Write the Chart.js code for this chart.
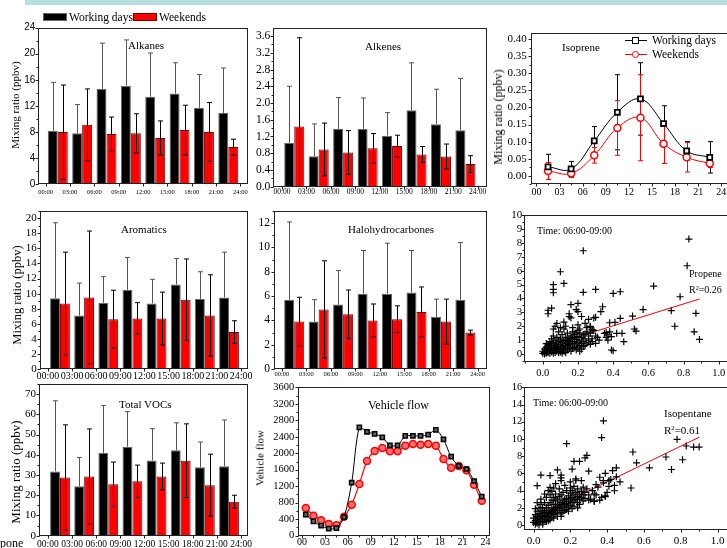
<!DOCTYPE html>
<html>
<head>
<meta charset="utf-8">
<script src="https://cdn.jsdelivr.net/npm/chart.js@4.4.1/dist/chart.umd.min.js"></script>
<style>
html, body { margin: 0; padding: 0; background: #fff; width: 727px; height: 548px; overflow: hidden; position: relative; }
canvas { position: absolute; }
.t { position: absolute; font-family: "Liberation Serif", "Times New Roman", serif; font-size: 11px; line-height: 1; color: #000; white-space: nowrap; }
.rot { transform: translate(-50%, -50%) rotate(-90deg); }
sup { font-size: 0.6em; vertical-align: 0.55em; line-height: 0; }
</style>
</head>
<body>
<div style="position:absolute;left:25px;top:0;width:702px;height:5px;background:#b8e0e2"></div>

<canvas id="alkanes"></canvas>
<canvas id="alkenes"></canvas>
<canvas id="isoprene"></canvas>
<canvas id="aromatics"></canvas>
<canvas id="halo"></canvas>
<canvas id="propene"></canvas>
<canvas id="total"></canvas>
<canvas id="vehicle"></canvas>
<canvas id="isopentane"></canvas>

<!-- legend of the bar panels -->
<div style="position:absolute;left:43px;top:13px;width:24px;height:8px;background:#000;border:1px solid #666;box-sizing:border-box"></div>
<div class="t" style="left:69px;top:11.5px;font-size:11.5px">Working days</div>
<div style="position:absolute;left:133px;top:13px;width:24px;height:8px;background:#f00;border:1px solid #700;box-sizing:border-box"></div>
<div class="t" style="left:159px;top:11.5px;font-size:11.5px">Weekends</div>

<!-- legend of the isoprene panel -->
<div style="position:absolute;left:625px;top:40px;width:22px;height:1px;background:#000"></div>
<div style="position:absolute;left:632px;top:37px;width:7px;height:7px;border:1.5px solid #000;background:#fff;box-sizing:border-box"></div>
<div class="t" style="left:652px;top:35px;font-size:11.5px">Working days</div>
<div style="position:absolute;left:625px;top:53.5px;width:22px;height:1px;background:#f00"></div>
<div style="position:absolute;left:632px;top:50.5px;width:7px;height:7px;border:1.5px solid #f00;border-radius:50%;background:#fff;box-sizing:border-box"></div>
<div class="t" style="left:652px;top:48.5px;font-size:11.5px">Weekends</div>

<div class="t" style="left:128px;top:39.5px">Alkanes</div>
<div class="t" style="left:365px;top:40.5px">Alkenes</div>
<div class="t" style="left:562px;top:41.5px">Isoprene</div>
<div class="t" style="left:121px;top:223.5px">Aromatics</div>
<div class="t" style="left:348px;top:223.5px">Halohydrocarbones</div>
<div class="t" style="left:537px;top:226px;font-size:10px">Time: 06:00-09:00</div>
<div class="t" style="left:689px;top:269px;font-size:10px">Propene</div>
<div class="t" style="left:689px;top:285px;font-size:10px">R<sup>2</sup>=0.26</div>
<div class="t" style="left:119px;top:398.5px">Total VOCs</div>
<div class="t" style="left:368px;top:399px;font-size:12px">Vehicle flow</div>
<div class="t" style="left:533px;top:398px;font-size:10px">Time: 06:00-09:00</div>
<div class="t" style="left:664px;top:407.5px">Isopentane</div>
<div class="t" style="left:664px;top:424.5px">R<sup>2</sup>=0.61</div>
<div class="t" style="left:0px;top:537px;font-size:12px">pone</div>

<div class="t rot" style="left:15px;top:105px">Mixing ratio (ppbv)</div>
<div class="t rot" style="left:16.5px;top:295px;font-size:12.5px">Mixing ratio (ppbv)</div>
<div class="t rot" style="left:15px;top:472px;font-size:13px">Mixing ratio (ppbv)</div>
<div class="t rot" style="left:498px;top:117px;font-size:12px">Mixing ratio (ppbv)</div>
<div class="t rot" style="left:260px;top:458px">Vehicle flow</div>

<script>
const SERIF = '"Liberation Serif", "Times New Roman", serif';
const SANS = '"Liberation Sans", Arial, sans-serif';

const timeLabels = ['00:00', '03:00', '06:00', '09:00', '12:00', '15:00', '18:00', '21:00', '24:00'];
const hourLabels = ['00', '03', '06', '09', '12', '15', '18', '21', '24'];
const binHours = [1.5, 4.5, 7.5, 10.5, 13.5, 16.5, 19.5, 22.5];

// 3-hour means and standard deviations
const alkanesWork = [8.2, 7.8, 14.6, 15.1, 13.4, 13.9, 11.7, 10.9];
const alkanesWorkSd = [7.4, 4.4, 7.0, 7.0, 6.7, 4.7, 5.1, 6.9];
const alkanesWeek = [8.0, 9.1, 7.7, 7.8, 7.1, 8.3, 8.0, 5.7];
const alkanesWeekSd = [7.2, 5.5, 2.6, 3.0, 2.6, 3.8, 4.5, 1.2];

const alkenesWork = [1.05, 0.73, 1.38, 1.38, 1.22, 1.83, 1.49, 1.35];
const alkenesWorkSd = [1.35, 0.77, 0.75, 0.74, 0.55, 1.13, 0.84, 1.24];
const alkenesWeek = [1.44, 0.89, 0.82, 0.92, 0.97, 0.77, 0.72, 0.54];
const alkenesWeekSd = [2.12, 0.63, 0.52, 0.35, 0.26, 0.19, 0.30, 0.20];

const isopreneWork = [0.026, 0.020, 0.102, 0.186, 0.225, 0.153, 0.073, 0.054];
const isopreneWorkSd = [0.037, 0.022, 0.042, 0.110, 0.106, 0.052, 0.027, 0.046];
const isopreneWeek = [0.014, 0.007, 0.060, 0.140, 0.170, 0.094, 0.054, 0.036];
const isopreneWeekSd = [0.025, 0.012, 0.023, 0.080, 0.126, 0.058, 0.043, 0.012];

const aromaticsWork = [9.4, 7.1, 8.8, 10.5, 8.7, 11.2, 9.3, 9.5];
const aromaticsWorkSd = [10.0, 4.3, 3.45, 4.3, 3.2, 3.45, 3.6, 6.0];
const aromaticsWeek = [8.7, 9.5, 6.6, 6.7, 6.7, 9.2, 7.1, 4.9];
const aromaticsWeekSd = [6.8, 8.8, 3.85, 2.1, 3.5, 5.4, 5.4, 1.5];

const haloWork = [5.7, 3.9, 5.3, 6.2, 6.2, 6.3, 4.3, 5.7];
const haloWorkSd = [6.4, 1.8, 2.8, 3.55, 4.15, 3.45, 1.45, 4.7];
const haloWeek = [3.9, 4.9, 4.5, 4.0, 4.1, 4.7, 3.9, 3.0];
const haloWeekSd = [2.0, 4.0, 2.0, 1.35, 1.1, 2.05, 1.85, 0.2];

const totalWork = [31.8, 24.5, 40.9, 44.0, 37.2, 42.2, 33.8, 34.3];
const totalWorkSd = [34.9, 14.2, 23.5, 17.3, 15.7, 13.6, 12.5, 22.9];
const totalWeek = [28.8, 29.3, 25.4, 26.9, 29.3, 37.1, 25.0, 16.8];
const totalWeekSd = [26.0, 23.5, 11.0, 8.0, 6.6, 18.2, 15.3, 3.2];

// hourly vehicle flow
const flowHours = [0.5, 1.5, 2.5, 3.5, 4.5, 5.5, 6.5, 7.5, 8.5, 9.5, 10.5, 11.5,
  12.5, 13.5, 14.5, 15.5, 16.5, 17.5, 18.5, 19.5, 20.5, 21.5, 22.5, 23.5];
const flowWork = [510, 348, 243, 170, 186, 453, 1287, 2630, 2517, 2468, 2387, 2193,
  2193, 2420, 2420, 2420, 2452, 2565, 2338, 1917, 1691, 1618, 1327, 947];
const flowWeek = [671, 485, 372, 283, 251, 461, 752, 1254, 1812, 2055, 2128, 2047,
  2047, 2185, 2225, 2209, 2225, 2185, 1861, 1650, 1691, 1586, 1238, 850];

// scatter, 06:00-09:00
const propenePts = [
  [0.00, 0.05], [0.00, 0.2], [0.01, 0.1], [0.01, 0.35], [0.01, 0.0], [0.02, 0.15], [0.02, 0.3], [0.02, 0.5],
  [0.02, 0.05], [0.03, 0.2], [0.03, 0.4], [0.03, 0.1], [0.03, 0.7], [0.04, 0.25], [0.04, 0.5], [0.04, 0.05],
  [0.04, 0.9], [0.05, 0.3], [0.05, 0.15], [0.05, 0.6], [0.05, 1.1], [0.06, 0.2], [0.06, 0.45], [0.06, 0.8],
  [0.06, 1.3], [0.07, 0.3], [0.07, 0.6], [0.07, 0.1], [0.07, 1.0], [0.08, 0.4], [0.08, 0.7], [0.08, 0.2],
  [0.08, 1.2], [0.09, 0.5], [0.09, 0.3], [0.09, 0.9], [0.09, 1.6], [0.10, 0.4], [0.10, 0.7], [0.10, 0.15],
  [0.10, 1.1], [0.11, 0.55], [0.11, 0.3], [0.11, 0.85], [0.11, 1.4], [0.12, 0.6], [0.12, 0.2], [0.12, 1.0],
  [0.12, 1.8], [0.13, 0.45], [0.13, 0.8], [0.13, 1.2], [0.14, 0.6], [0.14, 0.3], [0.14, 1.0], [0.14, 1.5],
  [0.15, 0.7], [0.15, 0.4], [0.15, 1.15], [0.16, 0.5], [0.16, 0.9], [0.16, 1.3], [0.16, 0.2], [0.17, 0.75],
  [0.17, 1.1], [0.17, 1.6], [0.18, 0.5], [0.18, 0.9], [0.18, 1.4], [0.19, 0.65], [0.19, 1.05], [0.19, 0.3],
  [0.20, 0.8], [0.20, 1.25], [0.20, 1.7], [0.20, 0.45], [0.21, 0.6], [0.21, 1.0], [0.21, 1.5], [0.22, 0.75],
  [0.22, 1.2], [0.22, 0.35], [0.23, 0.9], [0.23, 1.4], [0.24, 0.6], [0.24, 1.1], [0.25, 0.8], [0.25, 1.6],
  [0.26, 1.0], [0.26, 1.3], [0.27, 0.7], [0.27, 1.5], [0.28, 1.1], [0.28, 0.9], [0.29, 1.7], [0.30, 1.3],
  [0.03, 0.6], [0.04, 0.35], [0.06, 0.05], [0.08, 0.55], [0.10, 0.95], [0.12, 0.4], [0.13, 0.1], [0.15, 0.9],
  [0.17, 0.4], [0.18, 1.2], [0.19, 1.5], [0.21, 0.2], [0.23, 0.55], [0.09, 0.1], [0.07, 0.45], [0.05, 0.8],
  [0.02, 0.75], [0.11, 0.05], [0.14, 0.75], [0.16, 1.1], [0.24, 1.45],
  [0.06, 1.8], [0.07, 2.0], [0.08, 2.2], [0.10, 1.9], [0.12, 2.3], [0.13, 2.0], [0.15, 2.7], [0.15, 2.9],
  [0.16, 2.6], [0.17, 1.9], [0.20, 2.1], [0.21, 1.8], [0.22, 2.7], [0.24, 2.2], [0.25, 1.9], [0.26, 2.5],
  [0.27, 2.0], [0.28, 1.75], [0.29, 2.6], [0.19, 3.2], [0.20, 3.05], [0.20, 3.65], [0.16, 3.55], [0.05, 3.3],
  [0.03, 3.15], [0.03, 2.9],
  [0.30, 2.64], [0.33, 3.05], [0.34, 3.4], [0.30, 4.65], [0.27, 1.97], [0.28, 1.73], [0.30, 0.77], [0.35, 1.49],
  [0.37, 1.37], [0.39, 1.25], [0.37, 1.0], [0.39, 0.29], [0.40, 0.24], [0.38, 2.25], [0.41, 2.28], [0.44, 2.57],
  [0.42, 1.49], [0.45, 1.49], [0.46, 0.89], [0.40, 4.36], [0.44, 4.48], [0.36, 1.2], [0.36, 1.55], [0.38, 1.6],
  [0.31, 1.2], [0.32, 1.0],
  [0.51, 2.73], [0.52, 1.8], [0.53, 1.65], [0.57, 3.2], [0.63, 4.89], [0.73, 3.12], [0.75, 2.0], [0.78, 4.12],
  [0.82, 6.35], [0.83, 8.27], [0.87, 2.93], [0.86, 1.6], [0.89, 1.05],
  [0.23, 7.43], [0.10, 5.92], [0.12, 5.08], [0.06, 4.99], [0.06, 4.65], [0.06, 4.41], [0.23, 4.44]
];
const propeneFitX = [0.0, 0.89];
const propeneFitY = [0.46, 3.96];

const isopentanePts = [
  [0.00, 0.3], [0.00, 0.8], [0.01, 0.5], [0.01, 1.2], [0.01, 0.1], [0.02, 0.6], [0.02, 1.0], [0.02, 1.6],
  [0.02, 0.2], [0.03, 0.8], [0.03, 1.3], [0.03, 0.4], [0.03, 2.0], [0.04, 1.0], [0.04, 0.6], [0.04, 1.6],
  [0.04, 2.4], [0.05, 0.9], [0.05, 1.4], [0.05, 0.3], [0.05, 2.0], [0.06, 1.1], [0.06, 1.7], [0.06, 0.6],
  [0.06, 2.6], [0.07, 1.3], [0.07, 0.8], [0.07, 2.0], [0.07, 3.2], [0.08, 1.5], [0.08, 1.0], [0.08, 2.3],
  [0.08, 0.5], [0.09, 1.7], [0.09, 1.2], [0.09, 2.6], [0.09, 3.5], [0.10, 1.4], [0.10, 2.0], [0.10, 0.9],
  [0.10, 2.9], [0.11, 1.8], [0.11, 2.4], [0.11, 1.2], [0.11, 3.2], [0.12, 2.0], [0.12, 1.5], [0.12, 2.8],
  [0.12, 3.6], [0.13, 2.2], [0.13, 1.7], [0.13, 3.0], [0.13, 1.0], [0.14, 2.4], [0.14, 1.9], [0.14, 3.3],
  [0.15, 2.6], [0.15, 2.0], [0.15, 3.5], [0.15, 1.4], [0.16, 2.8], [0.16, 2.2], [0.16, 3.8], [0.17, 2.4],
  [0.17, 3.0], [0.17, 1.7], [0.18, 3.1], [0.18, 2.5], [0.18, 4.0], [0.18, 1.8], [0.19, 2.7], [0.19, 3.4],
  [0.19, 2.0], [0.20, 3.0], [0.20, 3.7], [0.20, 2.3], [0.20, 4.3], [0.21, 3.2], [0.21, 2.6], [0.21, 4.0],
  [0.22, 3.5], [0.22, 2.8], [0.22, 4.5], [0.23, 3.0], [0.23, 3.8], [0.24, 3.3], [0.24, 2.6], [0.24, 4.2],
  [0.25, 3.6], [0.25, 3.0], [0.26, 3.9], [0.26, 3.2], [0.27, 3.5], [0.27, 4.4], [0.28, 3.8], [0.28, 3.1],
  [0.29, 4.2], [0.30, 3.5], [0.31, 3.0], [0.32, 4.0], [0.05, 0.1], [0.03, 0.0], [0.07, 0.4], [0.09, 0.6],
  [0.11, 0.8], [0.13, 1.3], [0.16, 1.5], [0.19, 1.6], [0.22, 2.2], [0.25, 2.4], [0.02, 2.6], [0.04, 3.0],
  [0.06, 3.6], [0.08, 4.0], [0.10, 3.9], [0.14, 4.2], [0.17, 4.6], [0.20, 5.0], [0.23, 5.2], [0.12, 4.8],
  [0.01, 1.9], [0.06, 1.4], [0.10, 1.6], [0.15, 1.0], [0.18, 2.2], [0.21, 1.9], [0.24, 2.0], [0.27, 2.8],
  [0.30, 2.9], [0.33, 3.6], [0.35, 4.4], [0.37, 3.2], [0.38, 4.9], [0.40, 3.8], [0.41, 4.5], [0.42, 5.3],
  [0.44, 4.6], [0.45, 5.6], [0.47, 5.0], [0.36, 2.9], [0.34, 4.7], [0.39, 3.4],
  [0.38, 12.1], [0.37, 10.16], [0.18, 9.45], [0.78, 9.96], [0.83, 9.18], [0.87, 9.06], [0.90, 9.06], [0.72, 7.9],
  [0.81, 7.58], [0.75, 6.45], [0.63, 6.64], [0.54, 8.48], [0.56, 7.23], [0.53, 4.3], [0.45, 6.64], [0.43, 6.33],
  [0.39, 6.0], [0.29, 8.1], [0.28, 7.8], [0.25, 7.4], [0.22, 7.4], [0.21, 6.5], [0.30, 6.25], [0.13, 6.4],
  [0.15, 5.8], [0.04, 5.8], [0.09, 5.74], [0.02, 4.57], [0.09, 4.38], [0.11, 4.3], [0.15, 5.47], [0.15, 5.16],
  [0.23, 5.35], [0.26, 5.16], [0.36, 5.55], [0.38, 5.16], [0.41, 5.16], [0.44, 3.98], [0.34, 3.5], [0.39, 3.3],
  [0.33, 2.8], [0.33, 2.73]
];
const isopentaneFitX = [0.0, 0.90];
const isopentaneFitY = [0.85, 10.2];

// ---------- plugins ----------
function drawErr(chart, behind) {
  const ctx = chart.ctx, ys = chart.scales.y, a = chart.chartArea;
  ctx.save();
  ctx.beginPath();
  ctx.rect(a.left, a.top, a.right - a.left, a.bottom - a.top);
  ctx.clip();
  chart.data.datasets.forEach((ds, di) => {
    if (!ds.err || !!ds.errBehind !== behind) return;
    const meta = chart.getDatasetMeta(di);
    ctx.strokeStyle = ds.errColor || '#000';
    ctx.lineWidth = 1;
    meta.data.forEach((el, i) => {
      const v = ds.data[i].y, e = ds.err[i];
      const x = Math.round(el.x) + 0.5;
      const top = ys.getPixelForValue(v + e);
      const bot = ys.getPixelForValue(ds.errUp ? v : v - e);
      const w = ds.errCap || 2.5;
      ctx.beginPath();
      ctx.moveTo(x, top); ctx.lineTo(x, bot);
      ctx.moveTo(x - w, top); ctx.lineTo(x + w, top);
      if (!ds.errUp) { ctx.moveTo(x - w, bot); ctx.lineTo(x + w, bot); }
      ctx.stroke();
    });
  });
  ctx.restore();
}

const errorBars = {
  id: 'errorBars',
  beforeDatasetsDraw(chart) { drawErr(chart, true); },
  afterDatasetsDraw(chart) { drawErr(chart, false); }
};

const frame = {
  id: 'frame',
  afterDraw(chart, args, opts) {
    const {ctx, chartArea: a} = chart;
    const xs = chart.scales.x, ys = chart.scales.y;
    const L = Math.round(a.left) + 0.5, R = Math.round(a.right) - 0.5;
    const T = Math.round(a.top) + 0.5, B = Math.round(a.bottom) - 0.5;
    ctx.save();
    ctx.strokeStyle = '#222';
    ctx.lineWidth = 1;
    ctx.strokeRect(L, T, R - L, B - T);
    ctx.beginPath();
    ys.ticks.forEach(t => {
      const p = Math.round(ys.getPixelForValue(t.value)) + 0.5;
      ctx.moveTo(L - 3, p); ctx.lineTo(L, p);
    });
    xs.ticks.forEach(t => {
      const p = Math.round(xs.getPixelForValue(t.value)) + 0.5;
      ctx.moveTo(p, B); ctx.lineTo(p, B + 3);
    });
    if (opts.yMinor) {
      for (let k = Math.ceil(ys.min / opts.yMinor); k * opts.yMinor <= ys.max; k++) {
        const p = Math.round(ys.getPixelForValue(k * opts.yMinor)) + 0.5;
        ctx.moveTo(L - 2, p); ctx.lineTo(L, p);
      }
    }
    if (opts.xMinor) {
      for (let k = Math.ceil(xs.min / opts.xMinor); k * opts.xMinor <= xs.max; k++) {
        const p = Math.round(xs.getPixelForValue(k * opts.xMinor)) + 0.5;
        ctx.moveTo(p, B); ctx.lineTo(p, B + 2);
      }
    }
    ctx.stroke();
    ctx.restore();
  }
};

// ---------- helpers ----------
function axis(min, max, step, size, pad, fmt, family) {
  return {
    type: 'linear', min: min, max: max, offset: false,
    grid: {display: false, drawTicks: false},
    border: {display: false},
    ticks: {
      stepSize: step, includeBounds: false, autoSkip: false, maxRotation: 0, minRotation: 0,
      padding: pad, color: '#000', font: {family: family || SERIF, size: size},
      callback: fmt
    }
  };
}

function makeChart(id, box, area, config, frameOpts) {
  const c = document.getElementById(id);
  c.width = box[2]; c.height = box[3];
  c.style.left = box[0] + 'px'; c.style.top = box[1] + 'px';
  c.style.width = box[2] + 'px'; c.style.height = box[3] + 'px';
  const o = config.options;
  o.responsive = false;
  o.animation = false;
  o.devicePixelRatio = 1;
  o.layout = {padding: {left: 0, bottom: 0, top: area[1] - box[1], right: box[0] + box[2] - area[2]}};
  o.scales.x.afterFit = s => { s.height = box[1] + box[3] - area[3]; };
  o.scales.y.afterFit = s => { s.width = area[0] - box[0]; };
  o.plugins = {legend: {display: false}, tooltip: {enabled: false}, frame: frameOpts || {}};
  config.plugins = [errorBars, frame];
  return new Chart(c, config);
}

function barSets(work, workSd, week, weekSd) {
  return [
    {
      label: 'Working days', data: binHours.map((h, i) => ({x: h, y: work[i]})),
      backgroundColor: '#000', borderColor: '#666', borderWidth: 1,
      categoryPercentage: 0.82, barPercentage: 1.0,
      err: workSd, errUp: true, errColor: '#555'
    },
    {
      label: 'Weekends', data: binHours.map((h, i) => ({x: h, y: week[i]})),
      backgroundColor: '#ff0000', borderColor: '#7a0000', borderWidth: 1,
      categoryPercentage: 0.82, barPercentage: 1.0,
      err: weekSd, errColor: '#000'
    }
  ];
}

const timeFmt = v => timeLabels[Math.round(v / 3)];
const hourFmt = v => hourLabels[Math.round(v / 3)];

// ---------- Alkanes ----------
makeChart('alkanes', [0, 12, 262, 195], [38.3, 27.5, 248, 184.3], {
  type: 'bar',
  data: {datasets: barSets(alkanesWork, alkanesWorkSd, alkanesWeek, alkanesWeekSd)},
  options: {scales: {
    x: axis(-0.9, 24.93, 3, 6.5, 3.8, timeFmt),
    y: axis(0, 24, 4, 10, 3, v => v, SANS)
  }}
}, {yMinor: 2});

// ---------- Alkenes ----------
makeChart('alkenes', [245, 12, 256, 192], [273.3, 27.7, 487, 186.7], {
  type: 'bar',
  data: {datasets: barSets(alkenesWork, alkenesWorkSd, alkenesWeek, alkenesWeekSd)},
  options: {scales: {
    x: axis(-1.07, 25.15, 3, 7.5, 0.5, timeFmt),
    y: axis(0, 3.8, 0.4, 11.5, 3, v => v.toFixed(1))
  }}
}, {yMinor: 0.2});

// ---------- Isoprene ----------
makeChart('isoprene', [490, 15, 255, 190], [530.7, 32.7, 732, 184.3], {
  type: 'line',
  data: {datasets: [
    {
      label: 'Working days', data: binHours.map((h, i) => ({x: h, y: isopreneWork[i]})),
      borderColor: '#000', borderWidth: 1, tension: 0.4,
      pointStyle: 'rect', pointRadius: 3.5, pointBorderWidth: 1.8,
      pointBorderColor: '#000', pointBackgroundColor: '#fff',
      err: isopreneWorkSd, errColor: '#000', errBehind: true
    },
    {
      label: 'Weekends', data: binHours.map((h, i) => ({x: h, y: isopreneWeek[i]})),
      borderColor: '#ff0000', borderWidth: 1, tension: 0.4,
      pointStyle: 'circle', pointRadius: 3.5, pointBorderWidth: 1.5,
      pointBorderColor: '#ff0000', pointBackgroundColor: '#fff',
      err: isopreneWeekSd, errColor: '#ff0000', errBehind: true
    }
  ]},
  options: {scales: {
    x: axis(-0.75, 25.39, 3, 10, 2.4, hourFmt),
    y: axis(-0.025, 0.419, 0.05, 11, 4, v => v.toFixed(2))
  }}
}, {yMinor: 0.025, xMinor: 1.5});

// ---------- Aromatics ----------
makeChart('aromatics', [0, 198, 262, 187], [40, 210.7, 248, 369], {
  type: 'bar',
  data: {datasets: barSets(aromaticsWork, aromaticsWorkSd, aromaticsWeek, aromaticsWeekSd)},
  options: {scales: {
    x: axis(-0.98, 24.86, 3, 10, 1, timeFmt),
    y: axis(0, 21, 2, 11, 3.3, v => v)
  }}
}, {yMinor: 1});

// ---------- Halohydrocarbones ----------
makeChart('halo', [245, 198, 256, 185], [274.3, 211, 487, 369], {
  type: 'bar',
  data: {datasets: barSets(haloWork, haloWorkSd, haloWeek, haloWeekSd)},
  options: {scales: {
    x: axis(-0.94, 25.15, 3, 6.5, 1, timeFmt),
    y: axis(0, 13, 2, 11.5, 4.3, v => v)
  }}
}, {yMinor: 1});

// ---------- Propene scatter ----------
makeChart('propene', [490, 203, 260, 178], [524.3, 215, 735, 361.7], {
  type: 'scatter',
  data: {datasets: [
    {
      label: 'Propene', data: propenePts.map(p => ({x: p[0], y: p[1]})),
      pointStyle: 'cross', pointRadius: 3.5, borderColor: '#000', backgroundColor: '#000', borderWidth: 1.2
    },
    {
      label: 'fit', data: propeneFitX.map((x, i) => ({x: x, y: propeneFitY[i]})),
      showLine: true, pointRadius: 0, borderColor: '#ff0000', borderWidth: 1
    }
  ]},
  options: {scales: {
    x: axis(-0.105, 1.092, 0.2, 10.5, 5, v => v.toFixed(1)),
    y: axis(-0.55, 10, 1, 11, 2, v => v)
  }}
}, {yMinor: 0.5, xMinor: 0.1});

// ---------- Total VOCs ----------
makeChart('total', [0, 372, 262, 180], [39.3, 384, 248, 535.7], {
  type: 'bar',
  data: {datasets: barSets(totalWork, totalWorkSd, totalWeek, totalWeekSd)},
  options: {scales: {
    x: axis(-1.07, 24.86, 3, 9.5, 2.6, timeFmt),
    y: axis(0, 75, 10, 11, 3.3, v => v)
  }}
}, {yMinor: 5});

// ---------- Vehicle flow ----------
makeChart('vehicle', [262, 375, 240, 180], [298.3, 387.3, 490, 535.7], {
  type: 'line',
  data: {datasets: [
    {
      label: 'Working days', data: flowHours.map((h, i) => ({x: h, y: flowWork[i]})),
      borderColor: '#000', borderWidth: 1, tension: 0.3,
      pointStyle: 'rect', pointRadius: 3, pointBorderWidth: 1.5,
      pointBorderColor: '#000', pointBackgroundColor: '#666'
    },
    {
      label: 'Weekends', data: flowHours.map((h, i) => ({x: h, y: flowWeek[i]})),
      borderColor: '#ff0000', borderWidth: 1.2, tension: 0.3,
      pointStyle: 'circle', pointRadius: 3.5, pointBorderWidth: 1.5,
      pointBorderColor: '#ff0000', pointBackgroundColor: '#ff7070'
    }
  ]},
  options: {scales: {
    x: axis(-0.48, 24.58, 3, 10, 1, hourFmt),
    y: axis(0, 3600, 400, 10.5, 4, v => v)
  }}
}, {yMinor: 200, xMinor: 1.5});

// ---------- Isopentane scatter ----------
makeChart('isopentane', [490, 375, 260, 180], [524.3, 387.3, 735, 530], {
  type: 'scatter',
  data: {datasets: [
    {
      label: 'Isopentane', data: isopentanePts.map(p => ({x: p[0], y: p[1]})),
      pointStyle: 'cross', pointRadius: 3.5, borderColor: '#000', backgroundColor: '#000', borderWidth: 1.2
    },
    {
      label: 'fit', data: isopentaneFitX.map((x, i) => ({x: x, y: isopentaneFitY[i]})),
      showLine: true, pointRadius: 0, borderColor: '#ff0000', borderWidth: 1
    }
  ]},
  options: {scales: {
    x: axis(-0.05, 1.095, 0.2, 11, 5, v => v.toFixed(1)),
    y: axis(-0.58, 16, 2, 10.5, 2, v => v)
  }}
}, {yMinor: 1, xMinor: 0.1});
</script>
</body>
</html>
